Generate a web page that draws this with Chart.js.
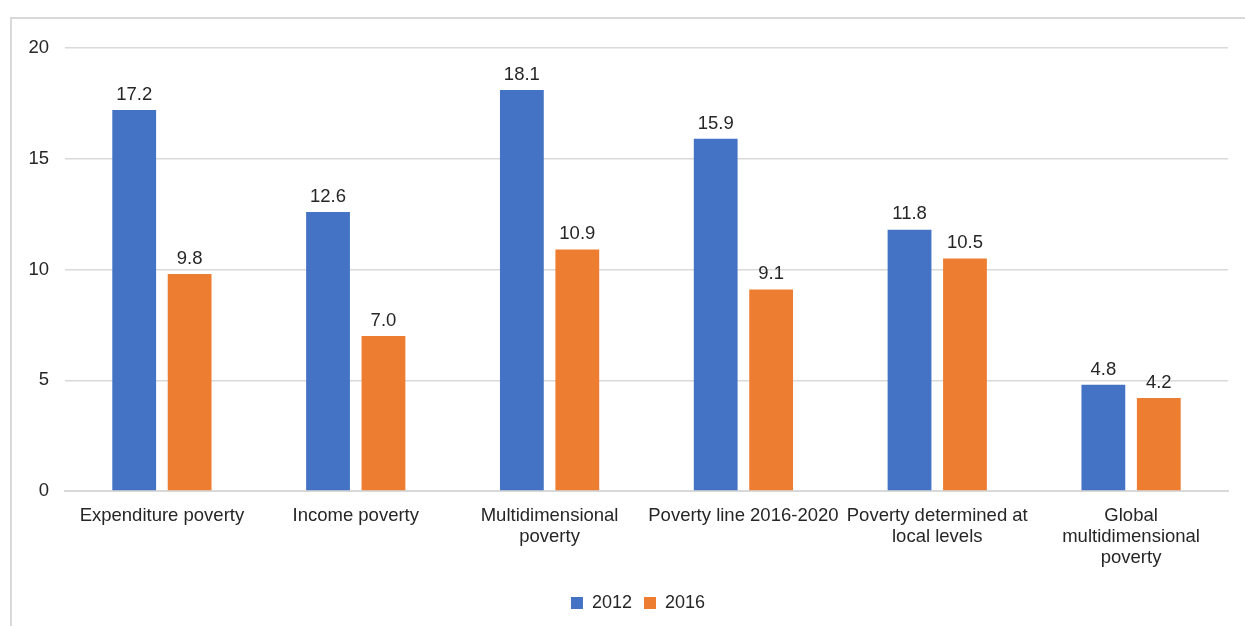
<!DOCTYPE html>
<html>
<head>
<meta charset="utf-8">
<script src="https://cdn.jsdelivr.net/npm/chart.js@4.4.1/dist/chart.umd.min.js"></script>
<style>
    html, body { margin: 0; padding: 0; background: #fff; }
    #frame {
        position: absolute; left: 10px; top: 17px; width: 1250px; height: 620px;
        border-top: 2px solid #d9d9d9; border-left: 2px solid #d9d9d9;
    }
    #wrap { position: absolute; left: 0; top: 0; width: 1245px; height: 626px; }
</style>
</head>
<body>
<div id="frame"></div>
<div id="wrap"><canvas id="povertyChart"></canvas></div>
<script>
const categories = [
    'Expenditure poverty',
    'Income poverty',
    ['Multidimensional', 'poverty'],
    'Poverty line 2016-2020',
    ['Poverty determined at', 'local levels'],
    ['Global', 'multidimensional', 'poverty']
];
const values2012 = [17.2, 12.6, 18.1, 15.9, 11.8, 4.8];
const values2016 = [9.8, 7.0, 10.9, 9.1, 10.5, 4.2];
const yTicks = [0, 5, 10, 15, 20];

const textColor = '#262626';
const fontFamily = '"Liberation Sans", Arial, sans-serif';
const fontSize = 18.5;

// vẽ nhãn giá trị phía trên mỗi cột
const barLabels = {
    id: 'barLabels',
    afterDatasetsDraw(chart) {
        const ctx = chart.ctx;
        ctx.save();
        ctx.font = fontSize + 'px ' + fontFamily;
        ctx.fillStyle = textColor;
        ctx.textAlign = 'center';
        ctx.textBaseline = 'bottom';
        chart.data.datasets.forEach((ds, i) => {
            chart.getDatasetMeta(i).data.forEach((bar, j) => {
                ctx.fillText(ds.data[j].toFixed(1), bar.x, bar.y - 6);
            });
        });
        ctx.restore();
    }
};

// đẩy legend lệch sang phải giống bản gốc
const legendShift = {
    id: 'legendShift',
    afterLayout(chart) {
        if (chart.legend) chart.legend.left += 48;
    }
};

const ctx = document.getElementById('povertyChart').getContext('2d');
new Chart(ctx, {
    type: 'bar',
    data: {
        labels: categories,
        datasets: [
            { label: '2012', data: values2012, backgroundColor: '#4472C4' },
            { label: '2016', data: values2016, backgroundColor: '#ED7D31' }
        ]
    },
    options: {
        responsive: true,
        maintainAspectRatio: false,
        animation: false,
        categoryPercentage: 0.572,
        barPercentage: 0.79,
        layout: { padding: { top: 48, right: 17, bottom: 4, left: 0 } },
        plugins: {
            legend: {
                position: 'bottom',
                labels: {
                    boxWidth: 12, boxHeight: 12, padding: 12,
                    color: textColor,
                    font: { family: fontFamily, size: 18 }
                }
            },
            tooltip: { enabled: false }
        },
        scales: {
            x: {
                grid: { display: false },
                border: { color: '#d9d9d9', width: 2 },
                ticks: {
                    color: textColor, maxRotation: 0, autoSkip: false, padding: 6,
                    font: { family: fontFamily, size: fontSize, lineHeight: 1.14 }
                },
                afterFit(scale) { scale.height = 91; }
            },
            y: {
                min: 0, max: 20,
                afterBuildTicks(scale) { scale.ticks = yTicks.map(v => ({ value: v })); },
                grid: { color: '#d9d9d9', lineWidth: 1.5, drawTicks: false },
                border: { display: false },
                ticks: {
                    color: textColor, padding: 16,
                    font: { family: fontFamily, size: fontSize }
                },
                afterFit(scale) { scale.width = 65; }
            }
        }
    },
    plugins: [barLabels, legendShift]
});
</script>
</body>
</html>
